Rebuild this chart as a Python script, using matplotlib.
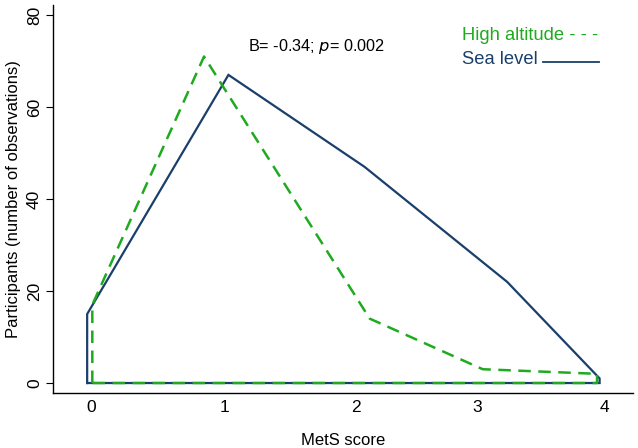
import matplotlib
matplotlib.use("Agg")
import matplotlib.pyplot as plt
from matplotlib.lines import Line2D

# frequency polygons (closed along y = 0)
sea_x = [-0.03, -0.03, 1.07, 2.13, 3.24, 3.96, 3.96, -0.03]
sea_y = [0, 15, 67, 47, 22, 1, 0, 0]
high_x = [0.01, 0.01, 0.88, 2.17, 3.05, 3.94, 3.94, 0.01]
high_y = [0, 17, 71, 14, 3, 2, 0, 0]

xtick_pos = [0, 1.04, 2.06, 3.01, 4]
xtick_labels = ["0", "1", "2", "3", "4"]
yticks = [0, 20, 40, 60, 80]

navy = "#1a3f6b"
green = "#1faa1f"

plt.rcParams["font.family"] = ["Liberation Sans", "DejaVu Sans"]

fig = plt.figure(figsize=(6.38, 4.48), dpi=100)
W, H = 638, 448
ax = fig.add_axes([53 / W, 1 - 393 / H, (633 - 53) / W, (393 - 5) / H])

ax.plot(sea_x, sea_y, color=navy, lw=1.6, solid_joinstyle="miter")
ax.plot(high_x, high_y, color=green, lw=1.8, dashes=(5, 3))

ax.set_xlim(-0.296, 4.22)
ax.set_ylim(-2.17, 82.2)
ax.spines["top"].set_visible(False)
ax.spines["right"].set_visible(False)
ax.spines["left"].set_linewidth(1.0)
ax.spines["bottom"].set_linewidth(1.0)

ax.set_xticks(xtick_pos)
ax.set_xticklabels(xtick_labels, fontsize=12.5)
ax.tick_params(axis="x", length=0, pad=5)
ax.set_yticks(yticks)
ax.set_yticklabels([str(v) for v in yticks], fontsize=12.5, rotation=90, va="center")
ax.tick_params(axis="y", length=5, pad=3)

ax.set_xlabel("MetS score", fontsize=12, labelpad=13)
ax.set_ylabel("Participants (number of observations)", fontsize=12, labelpad=4)

fig.text(248 / W, 1 - 46 / H, "B= -0.34; $\\it{p}$= 0.002", fontsize=11.7,
         ha="left", va="center")

fig.text(462 / W, 1 - 36 / H, "High altitude - - -", fontsize=13.2,
         color=green, ha="left", va="center")
fig.text(462 / W, 1 - 60 / H, "Sea level", fontsize=13.2,
         color=navy, ha="left", va="center")
fig.add_artist(Line2D([543 / W, 599 / W], [1 - 62 / H, 1 - 62 / H],
                      color=navy, lw=1.3, transform=fig.transFigure))

fig.savefig("out.png", dpi=100)
